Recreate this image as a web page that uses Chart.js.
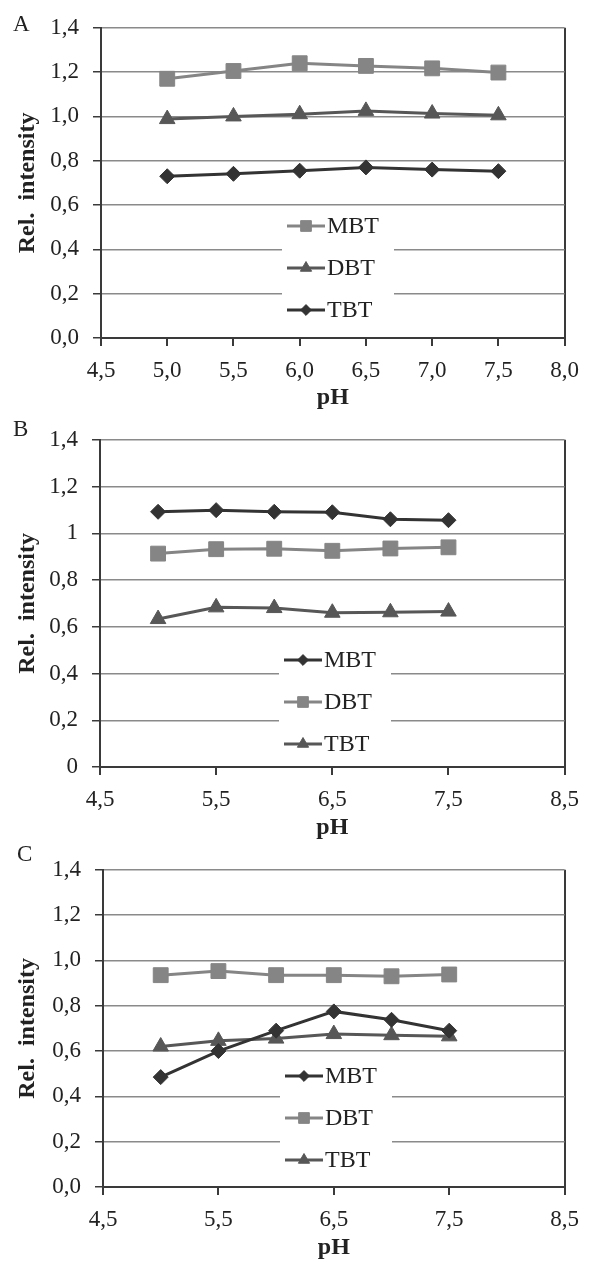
<!DOCTYPE html>
<html>
<head>
<meta charset="utf-8">
<script src="https://cdn.jsdelivr.net/npm/chart.js@4.4.1/dist/chart.umd.min.js"></script>
<style>
  body { margin: 0; background: #fff; width: 590px; height: 1262px; position: relative; overflow: hidden; }
  .panel { position: absolute; left: 0; width: 590px; }
</style>
</head>
<body>
<div class="panel" style="top:0;height:412px"><canvas id="chartA"></canvas></div>
<div class="panel" style="top:412px;height:430px"><canvas id="chartB"></canvas></div>
<div class="panel" style="top:842px;height:420px"><canvas id="chartC"></canvas></div>
<script>
// pH values measured
const phValues = [5.0, 5.5, 6.0, 6.5, 7.0, 7.5];

// panel A
const mbtA = [1.17, 1.205, 1.24, 1.228, 1.217, 1.198];
const dbtA = [0.988, 1.0, 1.01, 1.025, 1.013, 1.005];
const tbtA = [0.73, 0.741, 0.755, 0.77, 0.76, 0.753];
// panel B
const mbtB = [1.092, 1.099, 1.092, 1.09, 1.06, 1.056];
const dbtB = [0.913, 0.932, 0.934, 0.925, 0.935, 0.94];
const tbtB = [0.633, 0.683, 0.68, 0.66, 0.662, 0.665];
// panel C
const mbtC = [0.485, 0.60, 0.69, 0.775, 0.738, 0.69];
const dbtC = [0.935, 0.953, 0.935, 0.935, 0.93, 0.938];
const tbtC = [0.62, 0.645, 0.655, 0.675, 0.67, 0.665];

// tick values and labels
const yTickVals = [0, 0.2, 0.4, 0.6, 0.8, 1.0, 1.2, 1.4];
const yLabelsAC = ['0,0', '0,2', '0,4', '0,6', '0,8', '1,0', '1,2', '1,4'];
const yLabelsB = ['0', '0,2', '0,4', '0,6', '0,8', '1', '1,2', '1,4'];
const xTickValsA = [4.5, 5.0, 5.5, 6.0, 6.5, 7.0, 7.5, 8.0];
const xLabelsA = ['4,5', '5,0', '5,5', '6,0', '6,5', '7,0', '7,5', '8,0'];
const xTickValsBC = [4.5, 5.5, 6.5, 7.5, 8.5];
const xLabelsBC = ['4,5', '5,5', '6,5', '7,5', '8,5'];

const serif = '"Liberation Serif", "Times New Roman", serif';
const textCol = '#222';
const axisCol = '#3a3a3a';
const gridCol = '#8a8a8a';
const light = '#858585', mid = '#575757', dark = '#333333';

function series(label, values, color, style, radius) {
  return {
    label,
    data: phValues.map((x, i) => ({ x, y: values[i] })),
    borderColor: color,
    backgroundColor: color,
    borderWidth: 3,
    pointStyle: style,
    pointRadius: radius,
    pointBorderWidth: 1,
    pointBackgroundColor: color,
    pointBorderColor: color,
    tension: 0
  };
}
const square = (l, v) => series(l, v, light, 'rect', 10.5);
const triangle = (l, v, c) => series(l, v, c, 'triangle', 9);
const diamond = (l, v) => series(l, v, dark, 'rectRot', 7.5);

// legend stacked inside the plot, with a white box behind it
const insideLegend = {
  id: 'insideLegend',
  afterDraw(chart, args, o) {
    const ctx = chart.ctx;
    ctx.save();
    ctx.fillStyle = '#fff';
    ctx.fillRect(o.x - 5, o.y - 18, 112, o.gap * 2 + 38);
    chart.data.datasets.forEach((d, row) => {
      const y = o.y + row * o.gap;
      ctx.strokeStyle = d.borderColor;
      ctx.lineWidth = 3;
      ctx.beginPath();
      ctx.moveTo(o.x, y);
      ctx.lineTo(o.x + 38, y);
      ctx.stroke();
      ctx.fillStyle = d.borderColor;
      ctx.lineWidth = 1;
      Chart.helpers.drawPoint(ctx, { pointStyle: d.pointStyle, radius: d.pointRadius * 0.72, borderWidth: 1, rotation: 0 }, o.x + 19, y);
      ctx.fillStyle = textCol;
      ctx.font = '24px ' + serif;
      ctx.textBaseline = 'middle';
      ctx.textAlign = 'left';
      ctx.fillText(d.label, o.x + 40, y + 1);
    });
    ctx.restore();
  }
};

const panelLetter = {
  id: 'panelLetter',
  afterDraw(chart, args, o) {
    const ctx = chart.ctx;
    ctx.save();
    ctx.fillStyle = textCol;
    ctx.font = '23px ' + serif;
    ctx.textBaseline = 'middle';
    ctx.fillText(o.text, o.x, o.y);
    ctx.restore();
  }
};

function makeChart(id, p) {
  const xMax = p.xVals[p.xVals.length - 1];
  return new Chart(document.getElementById(id), {
    type: 'line',
    data: { datasets: p.datasets },
    plugins: [insideLegend, panelLetter],
    options: {
      responsive: true,
      maintainAspectRatio: false,
      animation: false,
      layout: { padding: { top: p.top, right: p.right, left: 0, bottom: 0 } },
      plugins: {
        legend: { display: false },
        tooltip: { enabled: false },
        insideLegend: p.legend,
        panelLetter: p.letter
      },
      scales: {
        x: {
          type: 'linear',
          min: p.xVals[0],
          max: xMax,
          afterBuildTicks: s => { s.ticks = p.xVals.map(v => ({ value: v })); },
          afterFit: s => { s.height = p.xHeight; },
          grid: {
            color: c => (c.tick && c.tick.value === xMax) ? axisCol : 'rgba(0,0,0,0)',
            tickColor: axisCol,
            tickLength: 8,
            lineWidth: 2
          },
          border: { color: axisCol, width: 2 },
          ticks: {
            callback: (v, i) => p.xLabels[i],
            font: { family: serif, size: 23 },
            color: textCol,
            padding: 11,
            maxRotation: 0,
            autoSkip: false
          },
          title: {
            display: true, text: 'pH', color: textCol,
            font: { family: serif, size: 24, weight: 'bold' },
            padding: { top: 0, bottom: 0 }
          }
        },
        y: {
          min: 0,
          max: 1.4,
          afterBuildTicks: s => { s.ticks = yTickVals.map(v => ({ value: v })); },
          afterFit: s => { s.width = p.left; },
          grid: { color: gridCol, lineWidth: 1.5, tickColor: axisCol, tickLength: 8 },
          border: { color: axisCol, width: 2 },
          ticks: {
            callback: (v, i) => p.yLabels[i],
            font: { family: serif, size: 23 },
            color: textCol,
            padding: 14
          },
          title: {
            display: true, text: 'Rel.  intensity', color: textCol,
            font: { family: serif, size: 24, weight: 'bold' },
            padding: { top: 13, bottom: 0 }
          }
        }
      }
    }
  });
}

makeChart('chartA', {
  datasets: [square('MBT', mbtA), triangle('DBT', dbtA, mid), diamond('TBT', tbtA)],
  xVals: xTickValsA, xLabels: xLabelsA, yLabels: yLabelsAC,
  top: 23, right: 23, left: 101, xHeight: 74,
  legend: { x: 287, y: 226, gap: 42 },
  letter: { text: 'A', x: 13, y: 25 }
});
makeChart('chartB', {
  datasets: [diamond('MBT', mbtB), square('DBT', dbtB), triangle('TBT', tbtB, mid)],
  xVals: xTickValsBC, xLabels: xLabelsBC, yLabels: yLabelsB,
  top: 24, right: 20, left: 100, xHeight: 75,
  legend: { x: 284, y: 248, gap: 42 },
  letter: { text: 'B', x: 13, y: 18 }
});
makeChart('chartC', {
  datasets: [diamond('MBT', mbtC), square('DBT', dbtC), triangle('TBT', tbtC, mid)],
  xVals: xTickValsBC, xLabels: xLabelsBC, yLabels: yLabelsAC,
  top: 21, right: 17, left: 103, xHeight: 75,
  legend: { x: 285, y: 234, gap: 42 },
  letter: { text: 'C', x: 17, y: 13 }
});
</script>
</body>
</html>
